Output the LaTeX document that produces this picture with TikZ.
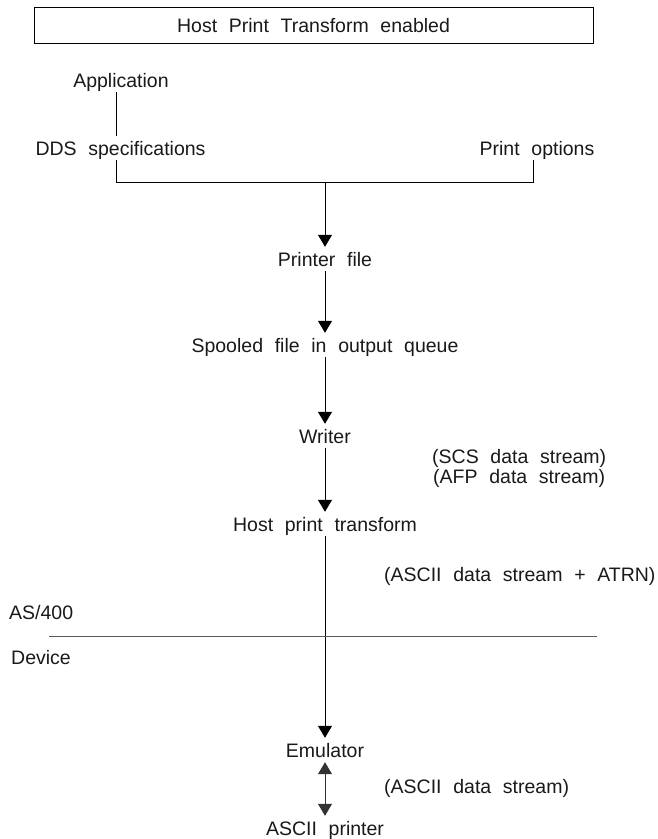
\documentclass[tikz,border=0pt]{standalone}
\usepackage{fontspec}
\usetikzlibrary{arrows.meta}
\newfontfamily\labfont{Liberation Sans}
\newcommand\labsize{\labfont\fontsize{19.5}{22}\selectfont\spaceskip=11.7pt\relax}
\begin{document}
\begin{tikzpicture}[x=1pt,y=-1pt,
  lab/.style={font=\labsize, text=black!90, inner xsep=0pt, inner ysep=5pt, text height=14pt, text depth=0pt, anchor=base},
  conn/.style={line width=1pt},
  tip/.tip={Triangle[width=14pt,length=12pt]},
  flow/.style={conn, -tip},
  both/.style={conn, draw=black!80, tip-tip}]
\useasboundingbox (0,0) rectangle (657,839);
\node[draw, line width=1pt, minimum width=559pt, minimum height=36pt, font=\labsize, text=black!90,
      inner sep=0pt, text height=14pt, text depth=0pt] (hpt) at (313.5,25) {Host Print Transform enabled};
\node[lab] (app) at (121,87) {Application};
\node[lab] (dds) at (120.5,155) {DDS specifications};
\node[lab] (opt) at (537,155) {Print options};
\coordinate (jl) at (116,182);
\coordinate (jr) at (533,182);
\coordinate (jm) at (325,182);
\node[lab] (pf) at (325,266) {Printer file};
\node[lab] (sp) at (325,352) {Spooled file in output queue};
\node[lab] (wr) at (325,443) {Writer};
\node[lab, anchor=base west] (scs) at (432,463) {(SCS data stream)};
\node[lab, anchor=base west] (afp) at (433,483) {(AFP data stream)};
\node[lab] (hpx) at (325,531) {Host print transform};
\node[lab, anchor=base west] (atrn) at (384,581) {(ASCII data stream + ATRN)};
\node[lab, anchor=base west] (as) at (9,619) {AS/400};
\node[lab, anchor=base west] (dev) at (11,664) {Device};
\coordinate (sepl) at (49,636);
\coordinate (sepr) at (597,636);
\node[lab] (emu) at (325,757) {Emulator};
\node[lab, anchor=base west] (ads) at (384,793) {(ASCII data stream)};
\node[lab] (prn) at (325,835) {ASCII printer};

\draw[conn] (app.south -| jl) -- (dds.north -| jl);
\draw[conn] (dds.south -| jl) -- (jl) -- (jr) -- (opt.south -| jr);
\draw[flow] (jm) -- (pf.north);
\draw[flow] (pf) -- (sp);
\draw[flow] (sp) -- (wr);
\draw[flow] (wr) -- (hpx);
\draw[flow] (hpx) -- (emu);
\draw[conn, draw=black!65] (sepl) -- (sepr);
\draw[both] (emu) -- (prn);
\end{tikzpicture}
\end{document}
